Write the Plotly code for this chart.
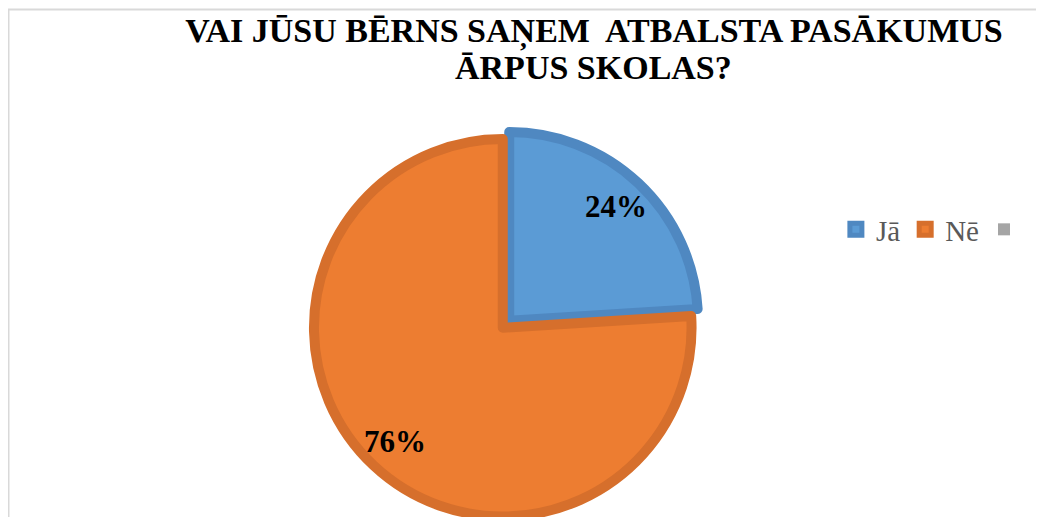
import math
import plotly.graph_objects as go

# data
labels = ["Jā", "Nē", " "]
values = [24, 76, 0]
fill_colors = ["#5B9BD5", "#ED7D31", "#A5A5A5"]
line_colors = ["#4F88C1", "#D66F2C", "rgba(0,0,0,0)"]
pull = [0.025, 0.025, 0]

title_line1 = "VAI JŪSU BĒRNS SAŅEM\u00a0 ATBALSTA PASĀKUMUS"
title_line2 = "ĀRPUS SKOLAS?"

W, H = 1044, 517
dom_x = [0.277, 0.677]
dom_y = [0.0139, 0.7625]
SERIF = "Liberation Serif, Times New Roman, serif"

fig = go.Figure(go.Pie(
    labels=labels,
    values=values,
    sort=False,
    direction="clockwise",
    rotation=0,
    pull=pull,
    textinfo="none",
    marker=dict(colors=fill_colors, line=dict(color=line_colors, width=10)),
    domain=dict(x=dom_x, y=dom_y),
))

# percentage labels along each slice's mid angle (same geometry plotly uses for the pie)
total = sum(values)
box_w = W * (dom_x[1] - dom_x[0])
box_h = H * (dom_y[1] - dom_y[0])
max_pull = max(pull)
r = min(box_w, box_h) / 2 / (1 + max_pull)
cx = W * (dom_x[0] + dom_x[1]) / 2
cy = H * (1 - dom_y[0]) - box_h / 2
start = 0.0
for lab, v, p in zip(labels, values, pull):
    if v == 0:
        continue
    span = v / total * 2 * math.pi
    mid = start + span / 2
    start += span
    d = p * r + 0.83 * r
    px = cx + d * math.sin(mid)
    py = cy - d * math.cos(mid)
    fig.add_annotation(
        x=px / W, y=1 - py / H, xref="paper", yref="paper",
        xanchor="center", yanchor="middle",
        text=f"{v / total * 100:.0f}%", showarrow=False,
        font=dict(family=SERIF, size=31, color="#000000", weight="bold"),
    )

# second title line
fig.add_annotation(
    x=0.5613, y=0.8849, xref="paper", yref="paper",
    xanchor="center", yanchor="middle",
    text=title_line2, showarrow=False,
    font=dict(family=SERIF, size=34, color="#000000", weight="bold"),
)

# chart-area border (cropped on the right and bottom in the reference)
fig.add_shape(type="rect", xref="paper", yref="paper",
              x0=0.5 / W, x1=1.05, y0=-0.05, y1=1 - 1.5 / H,
              line=dict(color="#D9D9D9", width=2), fillcolor="rgba(0,0,0,0)")

fig.update_layout(
    width=W, height=H,
    margin=dict(l=0, r=0, t=0, b=0),
    paper_bgcolor="white",
    plot_bgcolor="white",
    title=dict(
        text=title_line1,
        x=0.5613, xanchor="center",
        y=0.9807, yanchor="top",
        font=dict(family=SERIF, size=34, color="#000000", weight="bold"),
    ),
    legend=dict(
        orientation="h",
        x=0.793, xanchor="left",
        y=0.5716, yanchor="middle",
        font=dict(family=SERIF, size=29, color="#595959"),
        traceorder="normal",
    ),
)

fig.write_html("out.html")
